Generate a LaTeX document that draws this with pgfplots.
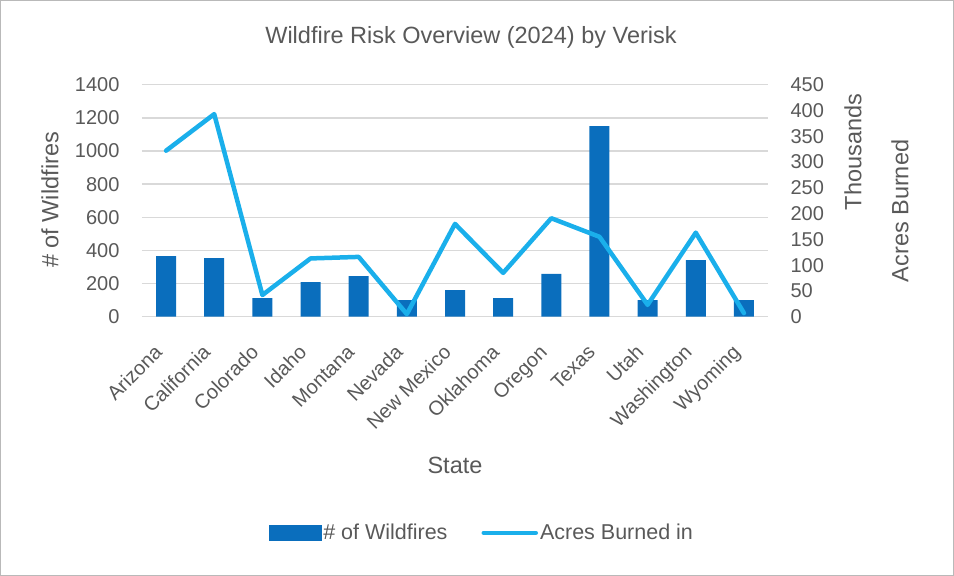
\documentclass[border=0pt]{standalone}
\usepackage{pgfplots}
\pgfplotsset{compat=1.18}
\usepackage{fontspec}
\setmainfont{Liberation Sans}
\definecolor{barblue}{HTML}{0A6EBD}
\definecolor{lineblue}{HTML}{1AAFEB}
\definecolor{txt}{HTML}{595959}
\definecolor{gridc}{HTML}{D9D9D9}
\begin{document}
\begin{tikzpicture}[x=1pt,y=1pt]
\draw[draw=gray!55, line width=1pt] (0.5,0.5) rectangle (953.5,575.5);
\begin{axis}[
  at={(142pt,259.3pt)}, anchor=south west, scale only axis,
  width=626pt, height=232pt,
  xmin=-0.5, xmax=12.5, ymin=0, ymax=1400,
  ytick={0,200,...,1400},
  xtick={0,...,12},
  xticklabels={Arizona,California,Colorado,Idaho,Montana,Nevada,New Mexico,Oklahoma,Oregon,Texas,Utah,Washington,Wyoming},
  axis line style={draw=none}, major tick length=0pt,
  ymajorgrids, grid style={gridc, line width=1.5pt},
  ticklabel style={font=\fontsize{20}{22}\selectfont, text=txt},
  x tick label style={xshift=-13pt, yshift=-22pt, rotate=45, anchor=north east},
  yticklabel style={xshift=-19pt},
  /pgf/number format/assume math mode=true,
  /pgf/number format/1000 sep={},
  clip=false,
]
\addplot[ybar, bar width=20pt, fill=barblue, draw=none] coordinates {
(0,366) (1,354) (2,112) (3,209) (4,245) (5,100) (6,161) (7,112) (8,258) (9,1150) (10,100) (11,342) (12,100)};
\end{axis}
\begin{axis}[
  at={(142pt,259.3pt)}, anchor=south west, scale only axis,
  width=626pt, height=232pt,
  xmin=-0.5, xmax=12.5, ymin=0, ymax=450,
  ytick={0,50,...,450},
  axis y line*=right, axis x line=none,
  axis line style={draw=none}, major tick length=0pt,
  ticklabel style={font=\fontsize{20}{22}\selectfont, text=txt},
  yticklabel style={xshift=19pt},
  /pgf/number format/assume math mode=true,
  /pgf/number format/1000 sep={},
  clip=false,
  legend style={at={(0.543,-0.932)}, anchor=center, draw=none, fill=none,
    font=\fontsize{21.5}{23}\selectfont, text=txt, legend columns=2,
    /tikz/every even column/.append style={column sep=32pt}},
]
\addlegendimage{legend image code/.code={\fill[barblue] (0pt,-7.5pt) rectangle (52pt,7.5pt);}}
\addlegendentry{\# of Wildfires}
\addplot[lineblue, line width=4.5pt, line join=round, line cap=round,
  legend image code/.code={\draw[lineblue, line width=4.5pt, line cap=round] (0pt,0pt) -- (52pt,0pt);}] coordinates {
(0,322) (1,393) (2,42) (3,113) (4,116) (5,5) (6,180) (7,85) (8,191) (9,155) (10,23) (11,163) (12,7)};
\addlegendentry{Acres Burned in}
\end{axis}
\node[text=txt, font=\fontsize{23.5}{25}\selectfont] at (471,539) {Wildfire Risk Overview (2024) by Verisk};
\node[text=txt, font=\fontsize{23.5}{25}\selectfont, rotate=90] at (50,376) {\# of Wildfires};
\node[text=txt, font=\fontsize{23.5}{25}\selectfont, rotate=90] at (853,424) {Thousands};
\node[text=txt, font=\fontsize{23.5}{25}\selectfont, rotate=90] at (900,365) {Acres Burned};
\node[text=txt, font=\fontsize{23.5}{25}\selectfont] at (455,111) {State};
\end{tikzpicture}
\end{document}
